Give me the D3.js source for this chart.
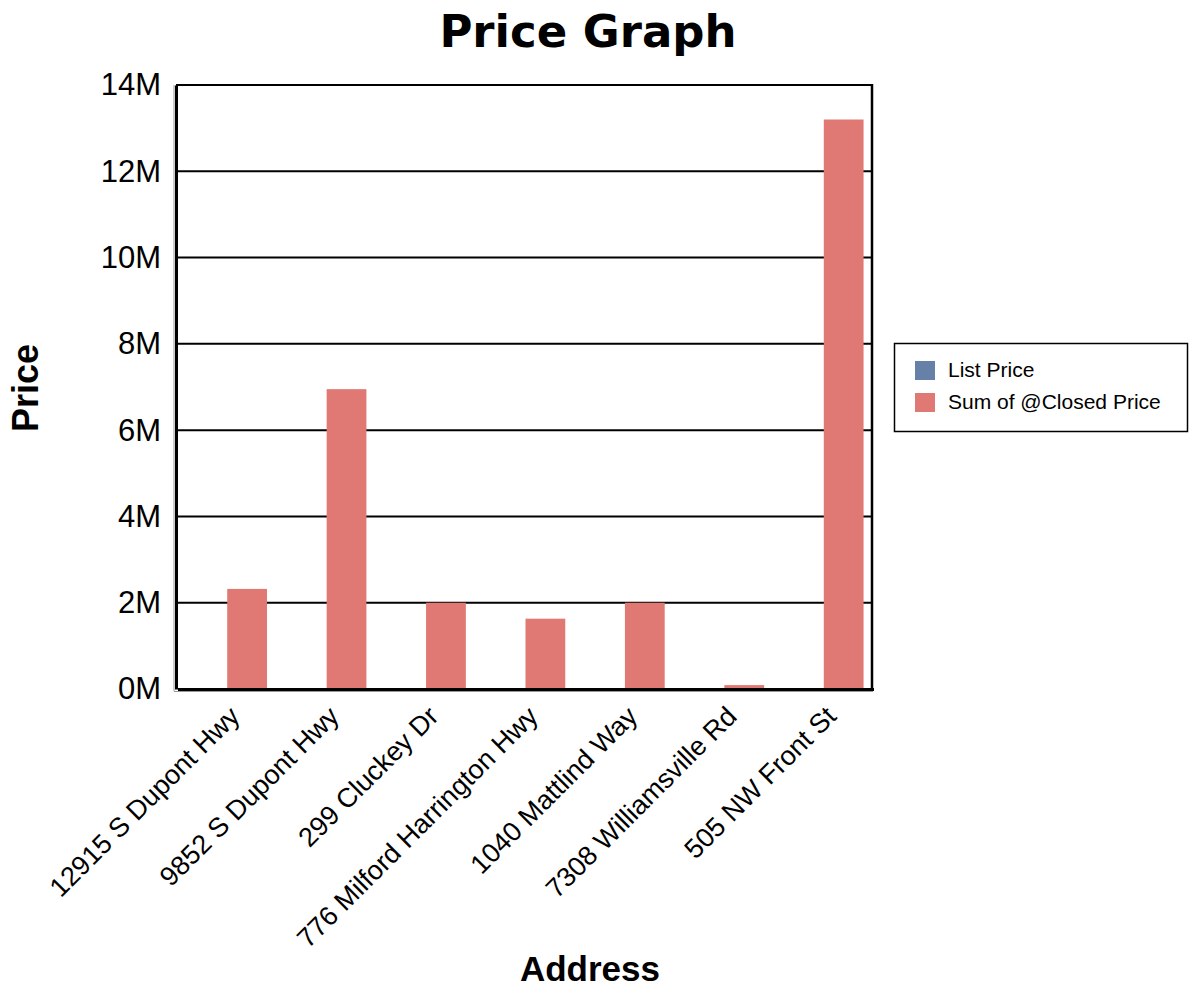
<!DOCTYPE html>
<html>
<head>
<meta charset="utf-8">
<script src="https://cdn.jsdelivr.net/npm/d3@7"></script>
<style>
  html, body { margin: 0; padding: 0; background: #fff; }
  svg { display: block; }
</style>
</head>
<body>
<svg id="chart" width="1190" height="990"></svg>
<script>
// Addresses along the x axis
const addresses = [
  "12915 S Dupont Hwy",
  "9852 S Dupont Hwy",
  "299 Cluckey Dr",
  "776 Milford Harrington Hwy",
  "1040 Mattlind Way",
  "7308 Williamsville Rd",
  "505 NW Front St"
];
// Series names and values (dollars)
const seriesNames = ["List Price", "Sum of @Closed Price"];
const listPrice = [0, 0, 0, 0, 0, 0, 0];
const closedPrice = [2320000, 6950000, 2000000, 1630000, 2000000, 90000, 13200000];
// Y axis ticks
const yTicks = [0, 2e6, 4e6, 6e6, 8e6, 10e6, 12e6, 14e6];

const colors = ["#6680a8", "#e07873"];

const svg = d3.select("#chart");
const plotL = 176, plotR = 872, plotT = 85, plotB = 689;

const x0 = d3.scaleBand().domain(addresses).range([plotL + 1.5, plotR + 1.5]).paddingInner(0.2).paddingOuter(0.1);
const x1 = d3.scaleBand().domain(seriesNames).range([0, x0.bandwidth()]);
const y = d3.scaleLinear().domain([0, 14e6]).range([plotB, plotT]);

// Grid lines
svg.append("g")
  .selectAll("line")
  .data(yTicks.slice(1))
  .join("line")
  .attr("x1", plotL).attr("x2", plotR)
  .attr("y1", d => y(d)).attr("y2", d => y(d))
  .attr("stroke", "#000").attr("stroke-width", 2);

// Bars
const rows = addresses.map((a, i) => ({ address: a, values: [listPrice[i], closedPrice[i]] }));
svg.append("g")
  .selectAll("g")
  .data(rows)
  .join("g")
  .attr("transform", d => `translate(${x0(d.address)},0)`)
  .selectAll("rect")
  .data(d => d.values.map((v, k) => ({ key: seriesNames[k], value: v, k })))
  .join("rect")
  .attr("x", d => x1(d.key))
  .attr("width", x1.bandwidth())
  .attr("y", d => y(d.value))
  .attr("height", d => plotB - y(d.value))
  .attr("fill", d => colors[d.k]);

// Plot frame
const frame = svg.append("g");
frame.append("line").attr("x1", plotL - 2).attr("x2", plotL - 2).attr("y1", plotT).attr("y2", plotB + 2)
  .attr("stroke", "#999").attr("stroke-width", 1);
frame.append("line").attr("x1", plotL - 2).attr("x2", plotR + 1).attr("y1", plotB + 2.5).attr("y2", plotB + 2.5)
  .attr("stroke", "#999").attr("stroke-width", 1);
frame.append("line").attr("x1", plotL).attr("x2", plotR).attr("y1", plotT).attr("y2", plotT)
  .attr("stroke", "#000").attr("stroke-width", 2);
frame.append("line").attr("x1", plotR).attr("x2", plotR).attr("y1", plotT - 1).attr("y2", plotB)
  .attr("stroke", "#000").attr("stroke-width", 2.5);

// Y axis
const yAxis = svg.append("g")
  .attr("transform", `translate(${plotL},0)`)
  .call(d3.axisLeft(y).tickValues(yTicks).tickSize(0).tickPadding(15)
    .tickFormat(d => (d / 1e6) + "M"));
yAxis.select(".domain").attr("stroke", "#000").attr("stroke-width", 3);
yAxis.selectAll("text")
  .attr("font-family", "Liberation Sans, Arial, sans-serif")
  .attr("font-size", 31).attr("fill", "#000");

// X axis
const xAxis = svg.append("g")
  .attr("transform", `translate(0,${plotB})`)
  .call(d3.axisBottom(x0).tickSize(0).tickPadding(0));
xAxis.select(".domain").attr("stroke", "#000").attr("stroke-width", 3);
xAxis.selectAll("text")
  .attr("font-family", "Liberation Sans, Arial, sans-serif")
  .attr("font-size", 27).attr("fill", "#000")
  .attr("text-anchor", "end")
  .attr("dy", null).attr("y", null)
  .attr("transform", "translate(14,29) rotate(-45)");

// Titles
svg.append("text")
  .attr("x", 588).attr("y", 47)
  .attr("text-anchor", "middle")
  .attr("font-family", "DejaVu Sans, Verdana, sans-serif")
  .attr("font-weight", "bold").attr("font-size", 45)
  .text("Price Graph");

svg.append("text")
  .attr("transform", "translate(38,388) rotate(-90)")
  .attr("text-anchor", "middle")
  .attr("font-family", "Liberation Sans, Arial, sans-serif")
  .attr("font-weight", "bold").attr("font-size", 36)
  .text("Price");

svg.append("text")
  .attr("x", 590).attr("y", 981)
  .attr("text-anchor", "middle")
  .attr("font-family", "Liberation Sans, Arial, sans-serif")
  .attr("font-weight", "bold").attr("font-size", 35)
  .text("Address");

// Legend
const legend = svg.append("g");
legend.append("rect")
  .attr("x", 894.5).attr("y", 343.5).attr("width", 293).attr("height", 88)
  .attr("fill", "#fff").attr("stroke", "#000").attr("stroke-width", 1.5);
const li = legend.selectAll("g.item")
  .data(seriesNames)
  .join("g").attr("class", "item")
  .attr("transform", (d, i) => `translate(915,${361 + i * 32})`);
li.append("rect").attr("width", 20).attr("height", 19).attr("fill", (d, i) => colors[i]);
li.append("text")
  .attr("x", 33).attr("y", 16)
  .attr("font-family", "Liberation Sans, Arial, sans-serif")
  .attr("font-size", 21).attr("fill", "#000")
  .text(d => d);
</script>
</body>
</html>
